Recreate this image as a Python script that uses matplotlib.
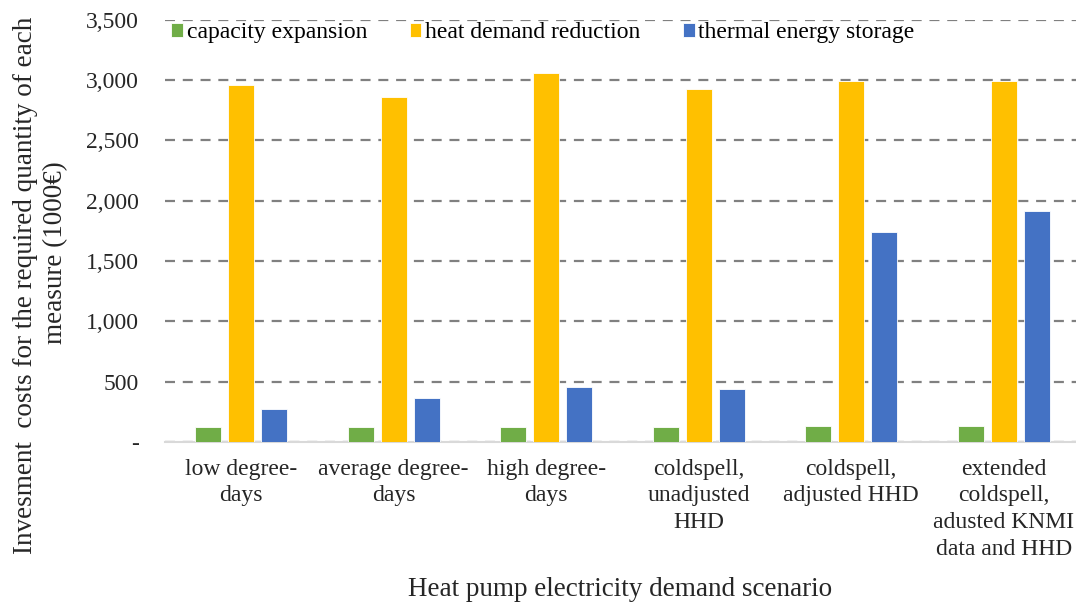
import matplotlib
matplotlib.use("Agg")
import matplotlib.pyplot as plt
import numpy as np
from matplotlib.ticker import FuncFormatter

plt.rcParams['font.family'] = ['Liberation Serif', 'DejaVu Serif']

scenarios = ["low degree-\ndays", "average degree-\ndays", "high degree-\ndays",
             "coldspell,\nunadjusted\nHHD", "coldspell,\nadjusted HHD",
             "extended\ncoldspell,\nadusted KNMI\ndata and HHD"]
capacity_expansion = [122, 122, 122, 122, 135, 135]
heat_demand_reduction = [2960, 2860, 3060, 2927, 2993, 2993]
thermal_energy_storage = [274, 367, 456, 440, 1741, 1915]

series = [("capacity expansion", capacity_expansion, "#70AD47"),
          ("heat demand reduction", heat_demand_reduction, "#FFC000"),
          ("thermal energy storage", thermal_energy_storage, "#4472C4")]

W, H = 1076, 603
fig = plt.figure(figsize=(W / 100, H / 100), dpi=100)
ax = fig.add_axes([165 / W, 0.267, 915 / W, 0.7])

x = np.arange(len(scenarios))
width = 0.17
pitch = 0.216
for i, (name, vals, color) in enumerate(series):
    ax.bar(x + (i - 1) * pitch, vals, width, color=color, label=name,
           edgecolor="white", linewidth=0.6, zorder=3)

ax.set_xlim(-0.5, len(scenarios) - 0.5)
ax.set_ylim(0, 3500)
ax.set_yticks(np.arange(0, 3501, 500))
ax.yaxis.set_major_formatter(FuncFormatter(lambda v, p: "-" if v == 0 else f"{int(v):,}"))
ax.grid(axis="y", color="#808080", linestyle=(0, (4.5, 3.5)), linewidth=1.6, zorder=0)
for s in ["top", "right", "left"]:
    ax.spines[s].set_visible(False)
ax.spines["bottom"].set_color("#D9D9D9")
ax.spines["bottom"].set_linewidth(1.5)
ax.tick_params(axis="both", length=0, labelsize=17, colors="#262626")
ax.tick_params(axis="y", pad=19)
ax.tick_params(axis="x", pad=12)
ax.set_xticks(x)
ax.set_xticklabels(scenarios, linespacing=1.36)

# axis titles
fig.text(620 / W, 1 - 590 / H, "Heat pump electricity demand scenario",
         fontsize=19.5, color="#262626", ha="center", va="center")
fig.text(26 / W, 1 - 285 / H, "Invesment  costs for the required quantity of each",
         fontsize=19.5, color="#262626", ha="center", va="center", rotation=90)
fig.text(56 / W, 1 - 253 / H, "measure (1000€)",
         fontsize=19.5, color="#262626", ha="center", va="center", rotation=90)

leg = ax.legend(loc="upper center", bbox_to_anchor=(0.413, 1.045), ncol=3, frameon=False,
                fontsize=17, handlelength=0.5, handleheight=0.5, handletextpad=0.15,
                columnspacing=1.8)

fig.savefig("out.png", dpi=100)
